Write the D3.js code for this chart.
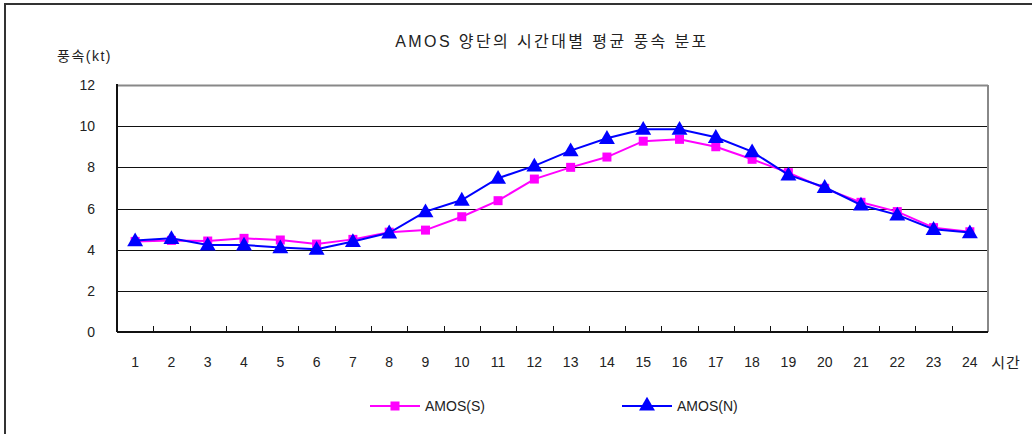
<!DOCTYPE html>
<html>
<head>
<meta charset="utf-8">
<script src="https://cdn.jsdelivr.net/npm/d3@7"></script>
<style>
  body { margin: 0; background: #fff; }
  text { font-family: "Liberation Sans", "Noto Sans CJK KR", sans-serif; fill: #222; }
</style>
</head>
<body>
<script>
var hours = d3.range(1, 25);
var amosS = [4.4, 4.45, 4.42, 4.55, 4.47, 4.27, 4.5, 4.85, 4.95, 5.6, 6.38, 7.43, 8.0, 8.5, 9.27, 9.36, 9.0, 8.39, 7.74, 6.98, 6.3, 5.85, 5.07, 4.87];
var amosN = [4.44, 4.55, 4.23, 4.23, 4.1, 4.02, 4.4, 4.82, 5.85, 6.41, 7.47, 8.07, 8.81, 9.41, 9.85, 9.85, 9.46, 8.76, 7.63, 7.03, 6.17, 5.69, 4.99, 4.83];
var yTicks = [0, 2, 4, 6, 8, 10, 12];

var width = 1032, height = 434;
var margin = { left: 117, right: 44, top: 85, bottom: 102 };

var svg = d3.select('body')
	.append('svg')
	.attr('width', width)
	.attr('height', height);

// outer frame (top and left visible)
svg.append('path')
	.attr('d', 'M5,' + height + 'V4H' + width)
	.attr('fill', 'none')
	.attr('stroke', '#333')
	.attr('stroke-width', 2);

var xScale = d3.scaleBand()
	.domain(hours)
	.range([margin.left, width - margin.right]);

var yScale = d3.scaleLinear()
	.domain([0, 12])
	.range([height - margin.bottom, margin.top]);

// grid
svg.selectAll('.grid')
	.data(yTicks.slice(1))
	.enter()
	.append('line')
	.attr('class', 'grid')
	.attr('x1', margin.left)
	.attr('x2', width - margin.right)
	.attr('y1', function(d) { return Math.round(yScale(d)) + 0.5; })
	.attr('y2', function(d) { return Math.round(yScale(d)) + 0.5; })
	.attr('stroke', function(d) { return d === 12 ? '#888' : '#111'; })
	.attr('stroke-width', function(d) { return d === 12 ? 2 : 1; });

// right border
svg.append('line')
	.attr('x1', width - margin.right)
	.attr('x2', width - margin.right)
	.attr('y1', margin.top)
	.attr('y2', height - margin.bottom)
	.attr('stroke', '#888')
	.attr('stroke-width', 2);

// x axis
var xAxis = svg.append('g')
	.attr('transform', 'translate(0,' + (height - margin.bottom) + ')');
xAxis.append('line')
	.attr('x1', margin.left)
	.attr('x2', width - margin.right)
	.attr('stroke', '#111')
	.attr('stroke-width', 2);
xAxis.selectAll('.tick')
	.data(hours.slice(1))
	.enter()
	.append('line')
	.attr('x1', function(d) { return Math.round(xScale(d)) + 0.5; })
	.attr('x2', function(d) { return Math.round(xScale(d)) + 0.5; })
	.attr('y1', 0)
	.attr('y2', -6)
	.attr('stroke', '#111');
xAxis.selectAll('.xlabel')
	.data(hours)
	.enter()
	.append('text')
	.attr('x', function(d) { return xScale(d) + xScale.bandwidth() / 2; })
	.attr('y', 35)
	.attr('text-anchor', 'middle')
	.attr('font-size', 14)
	.text(function(d) { return d; });
xAxis.append('text')
	.attr('x', 1006)
	.attr('y', 36)
	.attr('text-anchor', 'middle')
	.attr('font-size', 15)
	.attr('letter-spacing', 1)
	.text('시간');

// y axis
var yAxis = svg.append('g');
yAxis.append('line')
	.attr('x1', margin.left)
	.attr('x2', margin.left)
	.attr('y1', margin.top - 1)
	.attr('y2', height - margin.bottom)
	.attr('stroke', '#111')
	.attr('stroke-width', 2);
yAxis.selectAll('.ylabel')
	.data(yTicks)
	.enter()
	.append('text')
	.attr('x', 95)
	.attr('y', function(d) { return yScale(d) + 5; })
	.attr('text-anchor', 'end')
	.attr('font-size', 14)
	.text(function(d) { return d; });
yAxis.append('text')
	.attr('x', 57)
	.attr('y', 61)
	.attr('font-size', 14)
	.attr('letter-spacing', 1.5)
	.text('풍속(kt)');

// title
svg.append('text')
	.attr('x', 552)
	.attr('y', 47)
	.attr('text-anchor', 'middle')
	.attr('font-size', 16)
	.attr('letter-spacing', 2.4)
	.text('AMOS 양단의 시간대별 평균 풍속 분포');

var cx = function(d, i) { return xScale(hours[i]) + xScale.bandwidth() / 2; };
var line = d3.line()
	.x(cx)
	.y(function(d) { return yScale(d); });

var triangle = d3.symbol().type(d3.symbolTriangle).size(110);

var series = [
	{ name: 'AMOS(S)', values: amosS, color: '#ff00ff', shape: 'square' },
	{ name: 'AMOS(N)', values: amosN, color: '#0000ff', shape: 'triangle' }
];

series.forEach(function(s) {
	svg.append('path')
		.attr('d', line(s.values))
		.attr('fill', 'none')
		.attr('stroke', s.color)
		.attr('stroke-width', 2);
	var pts = svg.selectAll('.pt-' + s.shape)
		.data(s.values)
		.enter();
	if (s.shape === 'square') {
		pts.append('rect')
			.attr('x', function(d, i) { return cx(d, i) - 4.5; })
			.attr('y', function(d) { return yScale(d) - 4.5; })
			.attr('width', 9)
			.attr('height', 9)
			.attr('fill', s.color);
	} else {
		pts.append('path')
			.attr('d', triangle)
			.attr('transform', function(d, i) { return 'translate(' + cx(d, i) + ',' + (yScale(d) + 1) + ')'; })
			.attr('fill', s.color);
	}
});

// legend
var legend = [
	{ name: 'AMOS(S)', color: '#ff00ff', shape: 'square', x: 370 },
	{ name: 'AMOS(N)', color: '#0000ff', shape: 'triangle', x: 622 }
];
legend.forEach(function(l) {
	var g = svg.append('g').attr('transform', 'translate(' + l.x + ',406)');
	g.append('line')
		.attr('x1', 0).attr('x2', 50)
		.attr('stroke', l.color).attr('stroke-width', 2);
	if (l.shape === 'square') {
		g.append('rect').attr('x', 20.5).attr('y', -4.5).attr('width', 9).attr('height', 9).attr('fill', l.color);
	} else {
		g.append('path').attr('d', triangle).attr('transform', 'translate(25,0)').attr('fill', l.color);
	}
	g.append('text')
		.attr('x', 55)
		.attr('y', 5)
		.attr('font-size', 14)
		.text(l.name);
});
</script>
</body>
</html>
